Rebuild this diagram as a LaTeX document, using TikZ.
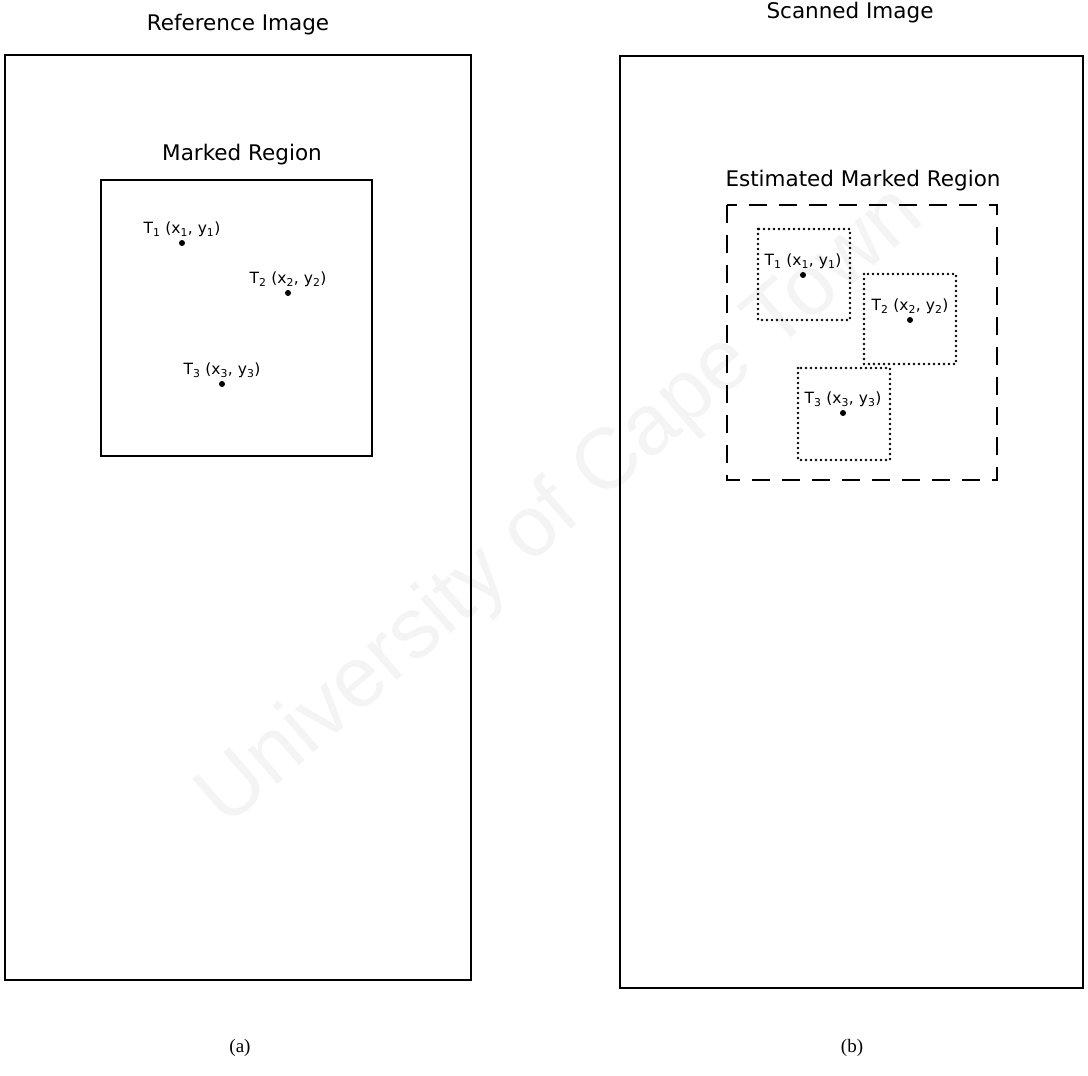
\documentclass[tikz,border=0pt]{standalone}
\usepackage{fontspec}
\usetikzlibrary{positioning}
\setmainfont{Liberation Serif}
\newfontfamily\labelfont{DejaVu Sans}
\newfontfamily\markfont{Liberation Sans}
\tikzset{
  heading/.style={font=\labelfont\fontsize{21.5}{25}\selectfont},
  ptlabel/.style={font=\labelfont\fontsize{15.5}{18}\selectfont, inner sep=1pt},
  pdot/.style={circle, fill=black, inner sep=0pt, minimum size=6pt},
  framebox/.style={line width=2.3pt},
  estbox/.style={line width=2.8pt, dash pattern=on 18pt off 12pt},
  searchbox/.style={line width=2.8pt, line cap=round, dash pattern=on 0pt off 5pt},
  figcap/.style={font=\fontsize{19}{22}\selectfont},
}
\begin{document}
\begin{tikzpicture}[x=1pt, y=-1pt]
  \useasboundingbox (0,0) rectangle (1088,1076);

  % watermark
  \node[font=\markfont\fontsize{86}{100}\selectfont, text=gray!9, rotate=41] (mark) at (562,508) {University of Cape Town};

  % (a) reference image
  \node[heading] (refttl) at (238,25) {Reference Image};
  \draw[framebox] (5,55) rectangle (471,980);
  \node[heading] (markttl) at (242,155) {Marked Region};
  \draw[framebox] (101,180) rectangle (372,456);

  \node[pdot] (a1) at (182,243) {};
  \node[pdot] (a2) at (288,293) {};
  \node[pdot] (a3) at (222,384) {};
  \node[ptlabel, above=2pt of a1] (la1) {T\textsubscript{1} (x\textsubscript{1}, y\textsubscript{1})};
  \node[ptlabel, above=2pt of a2] (la2) {T\textsubscript{2} (x\textsubscript{2}, y\textsubscript{2})};
  \node[ptlabel, above=2pt of a3] (la3) {T\textsubscript{3} (x\textsubscript{3}, y\textsubscript{3})};

  \node[figcap] (capa) at (240,1048) {(a)};

  % (b) scanned image
  \node[heading] (scanttl) at (850,13) {Scanned Image};
  \draw[framebox] (620,56) rectangle (1083,988);
  \node[heading] (estttl) at (863,181) {Estimated Marked Region};
  \draw[estbox] (727,205) rectangle (997,480);

  % search windows
  \draw[searchbox] (758,229) rectangle (850,320);
  \draw[searchbox] (864,274) rectangle (956,364);
  \draw[searchbox] (798,368) rectangle (890,460);

  \node[pdot] (b1) at (803,275) {};
  \node[pdot] (b2) at (910,320) {};
  \node[pdot] (b3) at (843,413) {};
  \node[ptlabel, above=2pt of b1] (lb1) {T\textsubscript{1} (x\textsubscript{1}, y\textsubscript{1})};
  \node[ptlabel, above=2pt of b2] (lb2) {T\textsubscript{2} (x\textsubscript{2}, y\textsubscript{2})};
  \node[ptlabel, above=2pt of b3] (lb3) {T\textsubscript{3} (x\textsubscript{3}, y\textsubscript{3})};

  \node[figcap] (capb) at (852,1048) {(b)};
\end{tikzpicture}
\end{document}
